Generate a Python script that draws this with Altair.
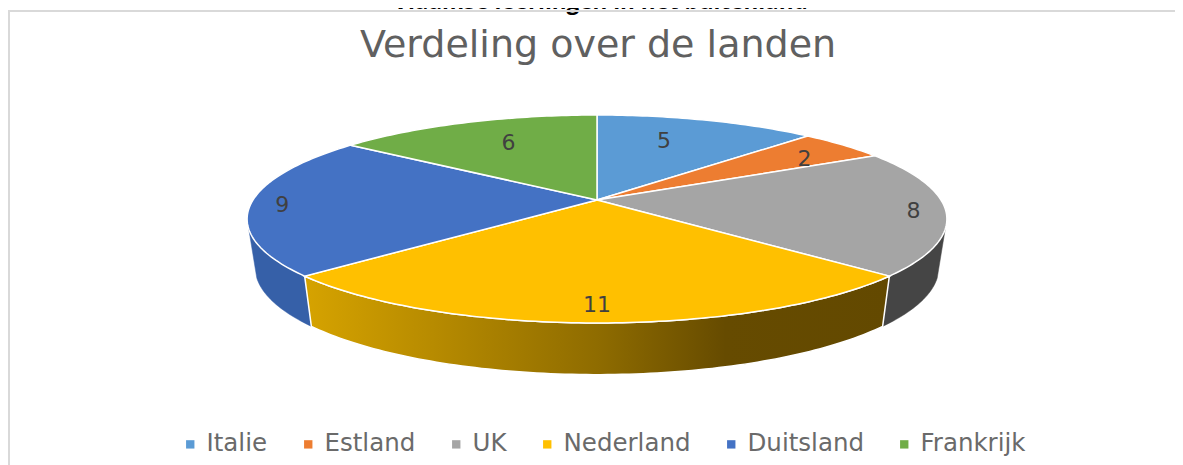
import numpy as np
import altair as alt

countries = ["Italie", "Estland", "UK", "Nederland", "Duitsland", "Frankrijk"]
counts = [5, 2, 8, 11, 9, 6]
colors = ["#5B9BD5", "#ED7D31", "#A5A5A5", "#FFC000", "#4472C4", "#70AD47"]
main_title = "Verdeling over de landen"
cut_title = "Vlaamse leerlingen in het buitenland"

# perspective model of the tilted disc
K = 0.1827
SQUASH = 100.5 / 344
PX = 344
DEPTH_Y = 48 / 344
LOWER_X = 0.977
LOWER_Y = 1.03
W, H = 1167, 457
cx, cy = 589, 192


def rim(theta_deg, lower=False):
    t = np.radians(theta_deg)
    s, c = np.sin(t), np.cos(t)
    d = 1 + K * c
    x, y = s / d, SQUASH * c / d
    if lower:
        return x * LOWER_X, y * LOWER_Y - DEPTH_Y
    return x, y


def sweep(a, b):
    return np.linspace(a, b, max(3, int(abs(b - a)) + 2))


def feature(name, ring):
    return {
        "type": "Feature",
        "properties": {"name": name},
        "geometry": {"type": "Polygon", "coordinates": [ring]},
    }


cum = np.cumsum([0] + counts) / sum(counts) * 360
wedges, labels = [], []
for i, name in enumerate(countries):
    ts = sweep(cum[i], cum[i + 1])
    xs, ys = rim(ts)
    ring = [[0.0, 0.0]] + [[float(a), float(b)] for a, b in zip(xs, ys)] + [[0.0, 0.0]]
    wedges.append(feature(name, ring))
    mid = (cum[i] + cum[i + 1]) / 2
    mx, my = rim(mid)
    s, c = np.sin(np.radians(mid)), np.cos(np.radians(mid))
    sign = 0 if abs(s) < 1e-6 else np.sign(s)
    labels.append({
        "lon": float(mx - sign * (31 + 13 * abs(c)) / PX),
        "lat": float(my - 20 * c / PX),
        "count": str(counts[i]),
    })


def wall(name, a, b):
    ts = sweep(a, b)
    tx, ty = rim(ts)
    lx, ly = rim(ts[::-1], lower=True)
    ring = [[float(p), float(q)] for p, q in zip(tx, ty)] + \
           [[float(p), float(q)] for p, q in zip(lx, ly)]
    ring.append(ring[0])
    return feature(name, ring)


proj = dict(type="identity", reflectY=True, scale=PX, translate=[cx, cy])


def geo(features):
    return alt.InlineData(values={"type": "FeatureCollection", "features": features},
                          format=alt.DataFormat(type="json", property="features"))


ned_grad = alt.Gradient(
    gradient="linear", x1=0, x2=1, y1=0, y2=0,
    stops=[
        alt.GradientStop(offset=0, color="#D6A300"),
        alt.GradientStop(offset=0.5, color="#8F6C00"),
        alt.GradientStop(offset=0.72, color="#664B00"),
        alt.GradientStop(offset=1, color="#634900"),
    ],
)

wall_duits = alt.Chart(geo([wall("Duitsland", cum[4], 254)])).mark_geoshape(
    fill="#3660A8", stroke="#3660A8", strokeWidth=0.5).project(**proj)
wall_uk = alt.Chart(geo([wall("UK", 106, cum[3])])).mark_geoshape(
    fill="#454545", stroke="#454545", strokeWidth=0.5).project(**proj)
wall_ned = alt.Chart(geo([wall("Nederland", cum[3], cum[4])])).mark_geoshape(
    fill=ned_grad, stroke="white", strokeWidth=1.5).project(**proj)

tops = alt.Chart(geo(wedges)).mark_geoshape(stroke="white", strokeWidth=1.5).encode(
    color=alt.Color(
        "properties.name:N",
        scale=alt.Scale(domain=countries, range=colors),
        sort=countries,
        legend=alt.Legend(
            title=None, orient="none", direction="horizontal", columns=6,
            legendX=170, legendY=424, symbolType="square", symbolSize=70,
            symbolStrokeWidth=0, labelFontSize=24.5, labelFont="DejaVu Sans",
            labelColor="#6A6A6A", columnPadding=28, symbolOffset=0, labelOffset=4,
            labelLimit=300,
        ),
    )
).project(**proj)

value_text = alt.Chart(alt.Data(values=labels)).mark_text(
    font="DejaVu Sans", fontSize=22, color="#404040", baseline="middle", align="center", dy=2
).encode(longitude="lon:Q", latitude="lat:Q", text="count:N").project(**proj)

title_text = alt.Chart(alt.Data(values=[{"t": main_title}])).mark_text(
    font="DejaVu Sans", fontSize=38, color="#606060",
    baseline="alphabetic", align="center",
).encode(x=alt.value(590), y=alt.value(49), text="t:N")

cut_text = alt.Chart(alt.Data(values=[{"t": cut_title}])).mark_text(
    font="Open Sans", fontSize=22.5, fontWeight="bold", color="black",
    baseline="alphabetic", align="center",
).encode(x=alt.value(592.5), y=alt.value(1), text="t:N")

frame_top = alt.Chart(alt.Data(values=[{"a": 0}])).mark_rule(color="#D9D9D9", strokeWidth=2).encode(
    x=alt.value(0), x2=alt.value(W + 8), y=alt.value(3))
frame_left = alt.Chart(alt.Data(values=[{"a": 0}])).mark_rule(color="#D9D9D9", strokeWidth=2).encode(
    x=alt.value(1), y=alt.value(2), y2=alt.value(H))

chart = alt.layer(
    cut_text, frame_top, frame_left, wall_duits, wall_uk, wall_ned, tops, value_text, title_text
).properties(
    width=W, height=H,
    autosize=alt.AutoSizeParams(type="none"),
    padding=0,
).configure_view(stroke=None)

chart.save("out.html", embed_options={"renderer": "svg", "actions": False})
